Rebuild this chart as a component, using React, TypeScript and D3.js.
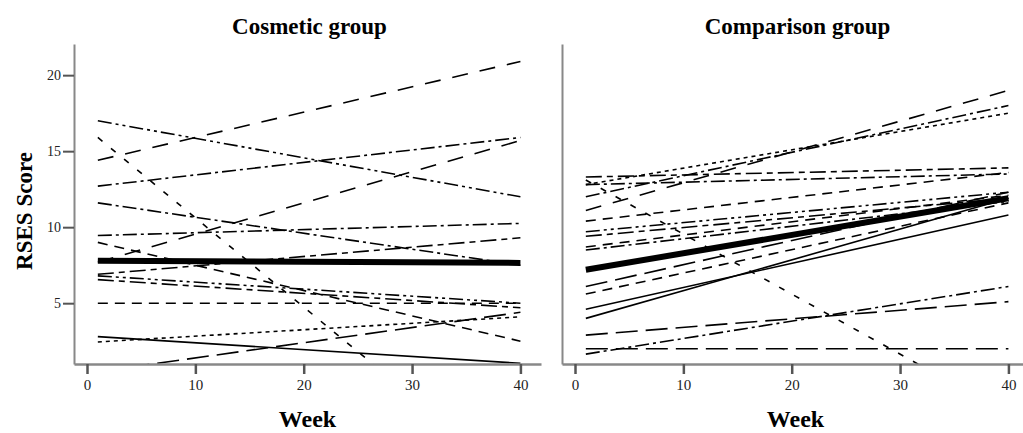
import { useEffect, useRef } from "react";
import * as d3 from "d3";

// RSES score at week 1 and week 40, one entry per participant line
const weeks = [1, 40];

const cosmeticWeek1 = [14.4, 17.0, 15.9, 12.7, 7.7, 11.6, 9.45, 9.0, 6.9, 6.8, 6.55, 5.0, 2.45, 2.8, 0.5];
const cosmeticWeek40 = [20.9, 12.0, -7.0, 15.9, 15.7, 7.5, 10.25, 2.5, 9.3, 5.0, 4.7, 5.0, 4.1, 1.05, 4.4];
const cosmeticMean = [7.8, 7.65];

const comparisonWeek1 = [13.3, 13.1, 12.8, 12.8, 12.0, 11.1, 10.4, 9.7, 9.4, 8.7, 8.5, 6.1, 5.6, 4.6, 4.0, 2.9, 1.65, 2.0];
const comparisonWeek40 = [13.9, -2.3, 13.5, 17.5, 18.0, 19.0, 13.6, 12.3, 11.9, 12.1, 11.7, 12.3, 11.6, 10.8, 11.9, 5.1, 6.1, 2.0];
const comparisonMean = [7.2, 11.9];

const panelTitles = ["Cosmetic group", "Comparison group"];
const xTicks = [0, 10, 20, 30, 40];
const yTicks = [5, 10, 15, 20];

// line styles (kept apart from the data)
const DASH: Record<string, string> = {
  solid: "",
  longDash: "16,12",
  flatLong: "22,8",
  dash: "10,7",
  sparse: "6,11",
  dot: "4,4",
  dashDot: "14,4,3,4",
  dashDotDot: "14,4,3,4,3,4",
  longShort: "16,5,6,5",
};
const cosmeticStyles = ["longDash", "dashDotDot", "sparse", "dashDot", "longDash", "dashDot", "dashDot", "dash",
  "longShort", "dashDotDot", "longShort", "dash", "dot", "solid", "flatLong"];
const comparisonStyles = ["longShort", "sparse", "dashDot", "dot", "dashDot", "longDash", "dash", "dashDotDot",
  "longShort", "dash", "dashDot", "flatLong", "dash", "solid", "solid", "flatLong", "dashDot", "flatLong"];

export default function App() {
  const svgRef = useRef<SVGSVGElement>(null);

  useEffect(() => {
    const svg = d3.select(svgRef.current);
    svg.selectAll("*").remove();

    const width = 1023, height = 433;
    const top = 44, bottom = 364;
    const panels = [
      { x0: 74, x1: 541, w1: cosmeticWeek1, w40: cosmeticWeek40, mean: cosmeticMean, styles: cosmeticStyles, yAxis: true },
      { x0: 562, x1: 1029, w1: comparisonWeek1, w40: comparisonWeek40, mean: comparisonMean, styles: comparisonStyles, yAxis: false },
    ];

    const y = d3.scaleLinear().domain([1, 22.05]).range([bottom, top]);
    const font = "'Liberation Serif', 'Times New Roman', serif";
    const line = d3.line<[number, number]>();

    panels.forEach((p, i) => {
      const x = d3.scaleLinear().domain([-1.2, 41.9]).range([p.x0, p.x1]);
      const g = svg.append("g");

      const clipId = `clip-${i}`;
      svg.append("clipPath").attr("id", clipId)
        .append("rect").attr("x", p.x0).attr("y", top).attr("width", p.x1 - p.x0).attr("height", bottom - top);

      const lines = g.append("g").attr("clip-path", `url(#${clipId})`);
      p.w1.forEach((v, k) => {
        lines.append("path")
          .attr("d", line([[x(weeks[0]), y(v)], [x(weeks[1]), y(p.w40[k])]]))
          .attr("fill", "none").attr("stroke", "#000").attr("stroke-width", 1.6)
          .attr("stroke-dasharray", DASH[p.styles[k]] || null);
      });
      lines.append("path")
        .attr("d", line([[x(weeks[0]), y(p.mean[0])], [x(weeks[1]), y(p.mean[1])]]))
        .attr("fill", "none").attr("stroke", "#000").attr("stroke-width", 6);

      // axes
      const xAxis = g.append("g").attr("transform", `translate(0,${bottom})`)
        .call(d3.axisBottom(x).tickValues(xTicks).tickSize(10).tickSizeOuter(0).tickPadding(5));
      xAxis.select(".domain").attr("stroke", "#888").attr("stroke-width", 2.5);
      xAxis.selectAll(".tick line").attr("stroke", "#555").attr("stroke-width", 2.5);
      xAxis.selectAll(".tick text").attr("font-family", font).attr("font-size", 15).attr("fill", "#222");

      const yAxis = g.append("g").attr("transform", `translate(${p.x0},0)`)
        .call(d3.axisLeft(y).tickValues(p.yAxis ? yTicks : []).tickSize(11).tickSizeOuter(0).tickPadding(2));
      yAxis.select(".domain").attr("stroke", "#888").attr("stroke-width", 2);
      yAxis.selectAll(".tick line").attr("stroke", "#555").attr("stroke-width", 2);
      yAxis.selectAll(".tick text").attr("font-family", font).attr("font-size", 14).attr("fill", "#222");

      const cx = (p.x0 + p.x1) / 2;
      svg.append("text").attr("x", cx + 2).attr("y", 34).attr("text-anchor", "middle")
        .attr("font-family", font).attr("font-weight", "bold").attr("font-size", 23)
        .text(panelTitles[i]);
      svg.append("text").attr("x", cx).attr("y", 427).attr("text-anchor", "middle")
        .attr("font-family", font).attr("font-weight", "bold").attr("font-size", 24)
        .text("Week");
    });

    svg.append("text")
      .attr("transform", `translate(32,${(top + bottom) / 2 + 7}) rotate(-90)`)
      .attr("text-anchor", "middle")
      .attr("font-family", font).attr("font-weight", "bold").attr("font-size", 23)
      .text("RSES Score");

    svg.attr("width", width).attr("height", height);
  }, []);

  return (
    <svg ref={svgRef} width={1023} height={433}
      style={{ position: "absolute", left: 0, top: 0, background: "#fff" }} />
  );
}
